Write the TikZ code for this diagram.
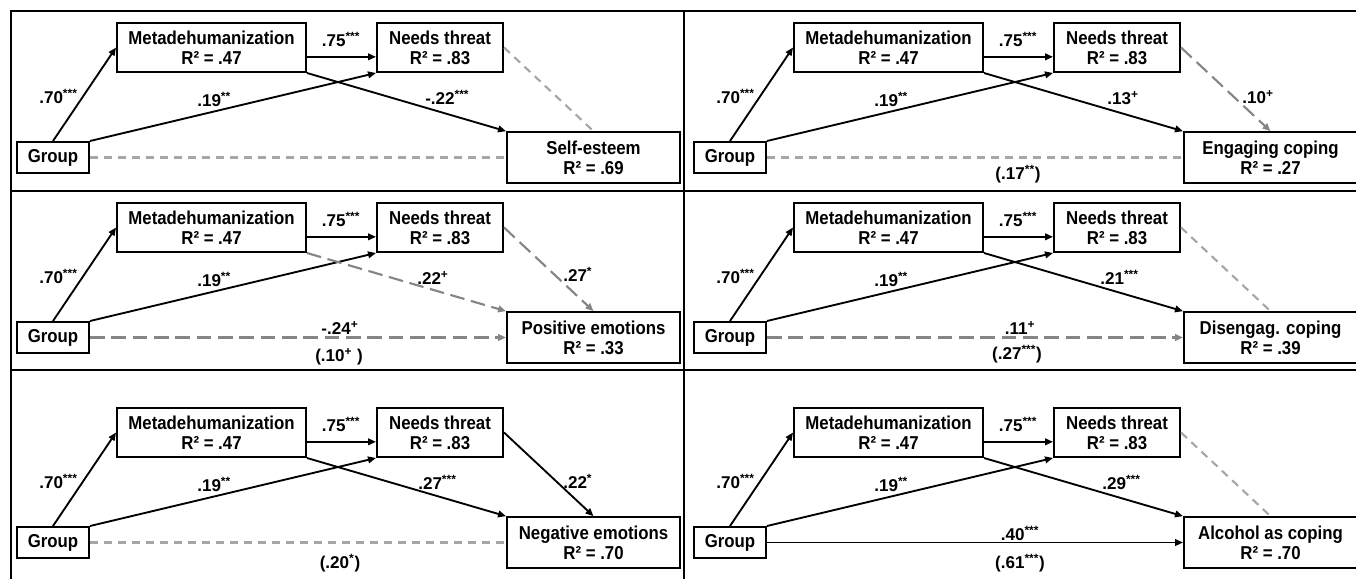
\documentclass[tikz,border=0pt]{standalone}
\usepackage{fontspec}
\setmainfont{Liberation Sans}
\newfontfamily\boxfont{Liberation Sans}[FakeStretch=0.9]
\usetikzlibrary{arrows.meta}

\begin{document}
\begin{tikzpicture}[x=0.75pt, y=-0.75pt,
    every node/.style={font=\fontsize{12.8}{14}\selectfont\bfseries},
    box/.style={draw, line width=1.5pt, inner sep=0pt, align=center, minimum height=36.75pt,
      font=\boxfont\fontsize{14}{14.8}\selectfont\bfseries},
    lbl/.style={inner sep=0pt, anchor=base},
    frame/.style={line width=1.5pt},
    sig/.style={line width=1.4pt, -{Triangle[length=6pt,width=5pt]}},
    trend/.style={draw=black!48, line width=1.6pt, dash pattern=on 11pt off 5pt, -{Triangle[length=6pt,width=5pt]}},
    ns/.style={draw=black!35, line width=1.6pt, dash pattern=on 6pt off 4.5pt}]
        \useasboundingbox (0,0) rectangle (1356,579);

        % draw frame lines
        \draw[frame] (10.5,579) -- (10.5,11) -- (1356,11);
        \draw[frame] (684,11) -- (684,579);
        \foreach \y in {191,370}
          \draw[frame] (10.5,\y) -- (1356,\y);

        % draw boxes and shared paths of every panel
        \foreach \p/\dx/\dy/\out/\rr in {1/0/0/Self-esteem/.69, 2/677/0/Engaging coping/.27,
            3/0/180/Positive emotions/.33, 4/677/180/Disengag. coping/.39,
            5/0/385/Negative emotions/.70, 6/677/385/Alcohol as coping/.70}
        {
          \node[box, minimum width=54pt, minimum height=23.25pt] (g\p) at (53+\dx,157.5+\dy) {Group};
          \node[box, minimum width=141.75pt] (m\p) at (211.5+\dx,47.5+\dy) {Metadehumanization\\R² = .47};
          \node[box, minimum width=94.5pt] (n\p) at (440+\dx,47.5+\dy) {Needs threat\\R² = .83};
          \node[box, minimum width=129.75pt, minimum height=38pt] (o\p) at (593.5+\dx,157.5+\dy) {\out\\R² = \rr};
          \draw[sig] (g\p.north) -- (m\p.west);
          \draw[sig] ([yshift=-7pt]m\p.east) -- ([yshift=-7pt]n\p.west);
          \draw[sig] (g\p.north east) -- (n\p.south west);
          \node[lbl, anchor=base west] (a\p) at (39+\dx,103+\dy) {.70\textsuperscript{***}};
          \node[lbl] (b\p) at (341+\dx,46+\dy) {.75\textsuperscript{***}};
          \node[lbl, anchor=base west] (c\p) at (197+\dx,106+\dy) {.19\textsuperscript{**}};
        }

        % self-esteem
        \draw[sig] (m1.south east) -- (o1.north west);
        \draw[ns] (n1.east) -- (o1.north);
        \draw[ns] (g1.east) -- (o1.west);
        \node[lbl, anchor=base west] (d1) at (425,104) {-.22\textsuperscript{***}};

        % engaging coping
        \draw[sig] (m2.south east) -- (o2.north west);
        \draw[trend] (n2.east) -- (o2.north);
        \draw[ns] (g2.east) -- (o2.west);
        \node[lbl, anchor=base west] (d2) at (1107,104) {.13\textsuperscript{+}};
        \node[lbl, anchor=base west] (e2) at (1242,103) {.10\textsuperscript{+}};
        \node[lbl] (f2) at (1018,179) {(.17\textsuperscript{**})};

        % positive emotions
        \draw[trend] (m3.south east) -- (o3.north west);
        \draw[trend] (n3.east) -- (o3.north);
        \draw[trend] (g3.east) -- (o3.west);
        \node[lbl, anchor=base west] (d3) at (417,284) {.22\textsuperscript{+}};
        \node[lbl, anchor=base west] (e3) at (563,281) {.27\textsuperscript{*}};
        \node[lbl] (f3) at (340,334) {-.24\textsuperscript{+}};
        \node[lbl] (h3) at (339,361) {(.10\textsuperscript{+} )};

        % disengagement coping
        \draw[sig] (m4.south east) -- (o4.north west);
        \draw[ns] (n4.east) -- (o4.north);
        \draw[trend] (g4.east) -- (o4.west);
        \node[lbl, anchor=base west] (d4) at (1100,284) {.21\textsuperscript{***}};
        \node[lbl] (f4) at (1020,334) {.11\textsuperscript{+}};
        \node[lbl] (h4) at (1017,359) {(.27\textsuperscript{***})};

        % negative emotions
        \draw[sig] (m5.south east) -- (o5.north west);
        \draw[sig] (n5.east) -- (o5.north);
        \draw[ns] (g5.east) -- (o5.west);
        \node[lbl, anchor=base west] (d5) at (418,489) {.27\textsuperscript{***}};
        \node[lbl, anchor=base west] (e5) at (563,488) {.22\textsuperscript{*}};
        \node[lbl] (h5) at (340,568) {(.20\textsuperscript{*})};

        % alcohol as coping
        \draw[sig] (m6.south east) -- (o6.north west);
        \draw[ns] (n6.east) -- (o6.north);
        \draw[sig] (g6.east) -- (o6.west);
        \node[lbl, anchor=base west] (d6) at (1102,489) {.29\textsuperscript{***}};
        \node[lbl] (f6) at (1020,540) {.40\textsuperscript{***}};
        \node[lbl] (h6) at (1020,568) {(.61\textsuperscript{***})};
\end{tikzpicture}
\end{document}
